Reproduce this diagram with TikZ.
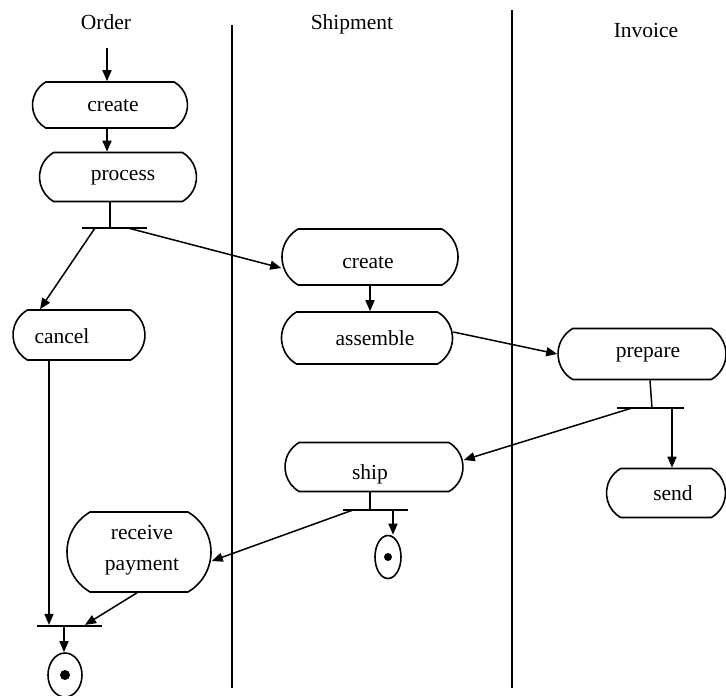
\documentclass[tikz,border=0pt]{standalone}
\usepackage{fontspec}
\setmainfont{Liberation Serif}
\usetikzlibrary{shapes.misc,shapes.geometric,arrows.meta}
\newcommand{\actfont}{\fontsize{21.5}{27}\selectfont}
\begin{document}
\begin{tikzpicture}[x=1pt,y=-1pt,
  act/.style={draw, line width=1.6pt, rounded rectangle, rounded rectangle arc length=120,
              inner sep=0pt},
  txt/.style={font=\actfont, inner sep=0pt, align=center},
  bar/.style={fill, minimum height=1.8pt, inner sep=0pt},
  flow/.style={line width=1.5pt, -{Triangle[length=11pt,width=9pt]}},
  link/.style={line width=1.5pt},
  lane/.style={line width=1.6pt},
  final/.style={draw, line width=1.6pt, ellipse, inner sep=0pt}]
\useasboundingbox (0,0) rectangle (726,696);

% swimlane separators and titles
\draw[lane] (232,25) -- (232,688);
\draw[lane] (512,10) -- (512,688);
\node[txt] (tOrder) at (106,22) {Order};
\node[txt] (tShip) at (352,24) {Shipment};
\node[txt] (tInv) at (646,30) {Invoice};

% Order lane
\node[act, minimum width=155pt, minimum height=46pt,
      label={[txt,shift={(3,1)}]center:create}] (ocreate) at (110,105) {};
\node[act, minimum width=157pt, minimum height=49pt,
      label={[txt,shift={(5,1)}]center:process}] (oprocess) at (118,177) {};
\node[act, minimum width=132pt, minimum height=50pt,
      label={[txt,shift={(-17,1)}]center:cancel}] (cancel) at (79,335) {};
\node[act, minimum width=144pt, minimum height=80pt,
      label={[txt,shift={(3,-2)}]center:receive\\[4pt]payment}] (recv) at (139,552) {};
\node[bar, minimum width=65pt] (b1) at (114.5,228) {};
\node[bar, minimum width=65pt] (b4) at (69.5,626) {};
\node[final, minimum width=34pt, minimum height=44pt] (f2) at (65,675) {};
\fill (f2) circle (5pt);

% Shipment lane
\node[act, minimum width=176pt, minimum height=56pt,
      label={[txt,shift={(-2,6)}]center:create}] (screate) at (370,257) {};
\node[act, minimum width=171pt, minimum height=52pt,
      label={[txt,shift={(8,0)}]center:assemble}] (assemble) at (367,338) {};
\node[act, minimum width=178pt, minimum height=49pt,
      label={[txt,shift={(-4,7)}]center:ship}] (ship) at (374,467) {};
\node[bar, minimum width=65pt] (b3) at (375.5,510) {};
\node[final, minimum width=26pt, minimum height=43pt] (f1) at (388,557) {};
\fill (f1) circle (4pt);

% Invoice lane
\node[act, minimum width=168pt, minimum height=51pt,
      label={[txt,shift={(6,1)}]center:prepare}] (prepare) at (642,354) {};
\node[act, minimum width=119pt, minimum height=49pt,
      label={[txt,shift={(7,0)}]center:send}] (send) at (666,493) {};
\node[bar, minimum width=67pt] (b2) at (650.5,408) {};

% initial flow
\coordinate (init) at (107,48);
\draw[flow] (init) -- (init |- ocreate.north);

% connectors
\draw[flow] ([xshift=-3pt]ocreate.south) -- ([xshift=-3pt]ocreate.south |- oprocess.north);
\draw[link] ([xshift=-8pt]oprocess.south) -- ([xshift=-8pt]oprocess.south |- b1.center);
\draw[flow] ([xshift=-19.5pt]b1.center) -- ([xshift=-39pt]cancel.north);
\draw[flow] ([xshift=13.5pt]b1.center) -- ([yshift=-11pt]screate.west);
\draw[flow] (screate.south) -- (screate.south |- assemble.north);
\draw[flow] ([yshift=6pt]assemble.east) -- (prepare.west);
\draw[link] ([xshift=8pt]prepare.south) -- ([xshift=1.5pt]b2.center);
\draw[flow] ([xshift=-18.5pt]b2.center) -- ([yshift=7pt]ship.east);
\draw[flow] ([xshift=21.5pt]b2.center) -- ([xshift=21.5pt]b2.center |- send.north);
\draw[link] ([xshift=-4pt]ship.south) -- ([xshift=-4pt]ship.south |- b3.center);
\draw[flow] ([xshift=-22.5pt]b3.center) -- ([yshift=-9pt]recv.east);
\draw[flow] ([xshift=17.5pt]b3.center) -- ([xshift=17.5pt]b3.center |- f1.north);
\draw[flow] ([xshift=-30pt]cancel.south) -- ([xshift=-30pt]cancel.south |- b4.north);
\draw[flow] ([xshift=-2pt]recv.south) -- ([xshift=15.5pt]b4.north);
\draw[flow] ([xshift=-5.5pt]b4.center) -- ([xshift=-5.5pt]b4.center |- f2.north);
\end{tikzpicture}
\end{document}
